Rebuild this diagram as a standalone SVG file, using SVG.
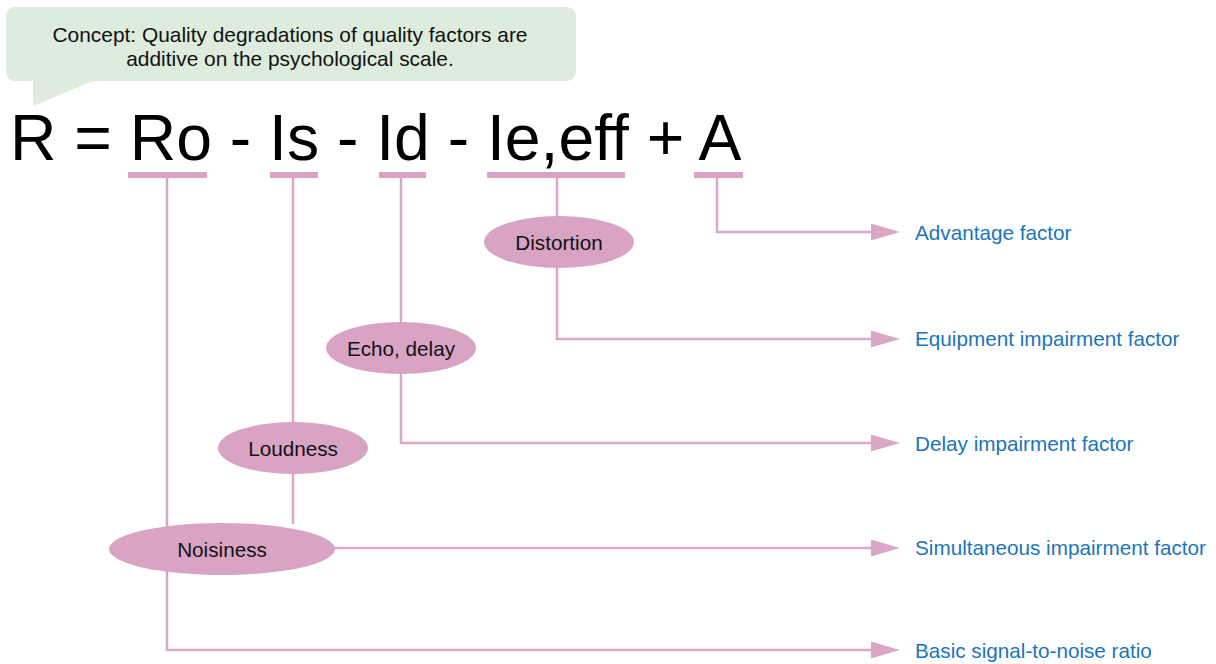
<svg xmlns="http://www.w3.org/2000/svg" width="1216" height="664" viewBox="0 0 1216 664">
<style>
.t{font-family:"Liberation Sans",Arial,sans-serif;}
.lbl{font-family:"Liberation Sans",Arial,sans-serif;font-size:20.7px;fill:#1a75bd;}
.el{fill:#d9a3c4;}
.etx{font-family:"Liberation Sans",Arial,sans-serif;font-size:20.7px;fill:#111;text-anchor:middle;}
.bar{fill:#d9a3c4;}
.ln{fill:none;stroke:#dba7c7;stroke-width:2.5;}
</style>
<defs>
<marker id="ah" markerUnits="userSpaceOnUse" markerWidth="29" markerHeight="17" refX="0" refY="8.5" orient="auto">
<path d="M0,0 L29,8.5 L0,17 z" fill="#dba7c7"/>
</marker>
</defs>
<rect width="1216" height="664" fill="#fff"/>
<g id="callout">
<rect x="6" y="7" width="570" height="74" rx="9" fill="#ddecdd"/>
<path d="M33,78 L33,106 L100,78 z" fill="#ddecdd"/>
<text class="t" x="290" y="41.5" font-size="20.9" text-anchor="middle" fill="#111">Concept: Quality degradations of quality factors are</text>
<text class="t" x="290" y="65.5" font-size="20.9" text-anchor="middle" fill="#111">additive on the psychological scale.</text>
</g>
<g id="connectors">
<path class="ln" d="M167,178 V650 H871" marker-end="url(#ah)"/>
<path class="ln" d="M293,178 V423"/>
<path class="ln" d="M293,473 V524"/>
<path class="ln" d="M334,548 H871" marker-end="url(#ah)"/>
<path class="ln" d="M401,178 V323"/>
<path class="ln" d="M401,373 V443 H871" marker-end="url(#ah)"/>
<path class="ln" d="M557,178 V217"/>
<path class="ln" d="M557,267 V339 H871" marker-end="url(#ah)"/>
<path class="ln" d="M717,178 V232 H871" marker-end="url(#ah)"/>
</g>
<g id="formula">
<text class="t" x="10" y="160" font-size="64.3" fill="#000">R = Ro - Is - Id - Ie,eff + A</text>
<rect class="bar" x="128" y="172" width="79" height="6"/>
<rect class="bar" x="270" y="172" width="48" height="6"/>
<rect class="bar" x="379" y="172" width="47" height="6"/>
<rect class="bar" x="487" y="172" width="138" height="6"/>
<rect class="bar" x="694" y="172" width="49" height="6"/>
</g>
<g id="distortion">
<ellipse class="el" cx="559" cy="242" rx="75" ry="26"/>
<text class="etx" x="559" y="249.5">Distortion</text>
</g>
<g id="echo">
<ellipse class="el" cx="401" cy="348" rx="75" ry="26"/>
<text class="etx" x="401" y="355.5">Echo, delay</text>
</g>
<g id="loudness">
<ellipse class="el" cx="293" cy="448" rx="75" ry="26"/>
<text class="etx" x="293" y="455.5">Loudness</text>
</g>
<g id="noisiness">
<ellipse class="el" cx="222" cy="549" rx="113" ry="26"/>
<text class="etx" x="222" y="556.5">Noisiness</text>
</g>
<g id="labels">
<text class="lbl" x="915" y="240">Advantage factor</text>
<text class="lbl" x="915" y="346">Equipment impairment factor</text>
<text class="lbl" x="915" y="451">Delay impairment factor</text>
<text class="lbl" x="915" y="555">Simultaneous impairment factor</text>
<text class="lbl" x="915" y="658">Basic signal-to-noise ratio</text>
</g>
</svg>
